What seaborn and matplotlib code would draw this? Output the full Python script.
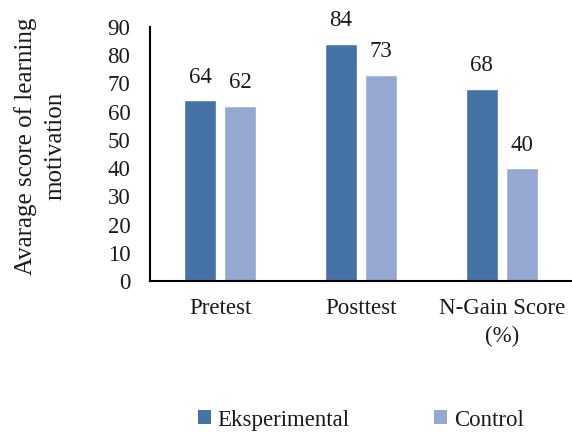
import matplotlib
matplotlib.use("Agg")
import matplotlib.pyplot as plt
import seaborn as sns
import pandas as pd
from matplotlib.patches import Patch

# Values shown on the chart
categories = ["Pretest", "Posttest", "N-Gain Score\n(%)"]
groups = ["Eksperimental", "Control"]
eksperimental = [64, 84, 68]
control = [62, 73, 40]
palette = ["#4572A7", "#95A8D1"]

df = pd.DataFrame({
    "category": categories * 2,
    "group": [groups[0]] * 3 + [groups[1]] * 3,
    "score": eksperimental + control,
})

sns.set_theme(style="white")
plt.rcParams["font.family"] = ["Liberation Serif", "DejaVu Serif"]

text_color = "#1a1a1a"

fig = plt.figure(figsize=(5.72, 4.33), dpi=100)
ax = fig.add_axes([0.262, 0.351, 0.738, 0.587])

sns.barplot(data=df, x="category", y="score", hue="group", order=categories,
            hue_order=groups, palette=palette, width=0.567, gap=0.2,
            saturation=1, ax=ax, legend=False)

for container in ax.containers:
    ax.bar_label(container, fmt="%d", padding=9, fontsize=16.5, color=text_color)

ax.set_ylim(0, 90)
ax.set_yticks(range(0, 91, 10))
ax.set_xlim(-0.5, 2.5)
ax.tick_params(axis="both", length=0, labelsize=16.5, colors=text_color)
ax.tick_params(axis="x", pad=12)
ax.tick_params(axis="y", pad=14)
for lbl in ax.get_xticklabels():
    lbl.set_linespacing(1.45)
ax.set_xlabel("")
ax.set_ylabel("Avarage score of learning\nmotivation", fontsize=18,
              color=text_color, linespacing=1.4)
ax.yaxis.set_label_coords(-0.198, 0.53)

for side in ["top", "right"]:
    ax.spines[side].set_visible(False)
for side in ["left", "bottom"]:
    ax.spines[side].set_color("black")
    ax.spines[side].set_linewidth(1.5)

handles = [Patch(facecolor=c, edgecolor="none") for c in palette]
fig.legend(handles, groups, loc="center", bbox_to_anchor=(0.631, 0.03),
           ncol=2, frameon=False, fontsize=16.5, handlelength=0.55,
           handleheight=0.55, handletextpad=0.3, columnspacing=3.7,
           labelcolor=text_color)

fig.savefig("out.png", dpi=100)
